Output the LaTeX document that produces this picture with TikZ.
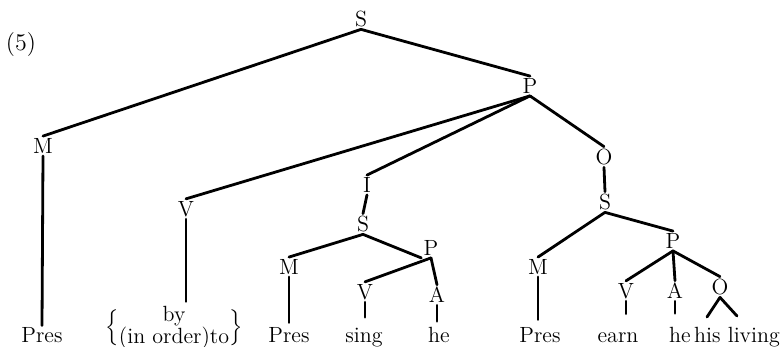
\documentclass[tikz,border=0pt]{standalone}
\begin{document}
\begin{tikzpicture}[x=0.5pt,y=-0.5pt, font=\fontsize{11}{13}\selectfont,
  lab/.style={inner sep=1pt},
  word/.style={inner sep=1pt, anchor=base},
  br/.style={line width=1.4pt, line cap=round}]
\useasboundingbox (0,0) rectangle (783,347);
\node[lab, font=\fontsize{12}{14}\selectfont] (n5) at (21,45) {(5)};
% top level
\node[lab] (S1) at (361,19) {S};
\node[lab] (M1) at (43,146) {M};
\node[word] (Pres1) at (42,343) {Pres};
\node[lab] (P1) at (530,86) {P};
\node[lab] (V1) at (186,209) {V};
\node[word, inner sep=0pt, font=\fontsize{11}{9.5}\selectfont] (by) at (174,333)
  {$\Big\{\begin{array}{@{}c@{}}\mbox{by}\\\mbox{(in order)to}\end{array}\Big\}$};
\node[lab] (I1) at (367,185) {I};
\node[lab] (S2) at (363,224) {S};
\node[lab] (M2) at (289,267) {M};
\node[word] (Pres2) at (289,343) {Pres};
\node[lab] (P2) at (431,248) {P};
\node[lab] (V2) at (365,292) {V};
\node[word] (sing) at (364,343) {sing};
\node[lab] (A2) at (437,295) {A};
\node[word] (he2) at (439,343) {he};
\node[lab] (O1) at (604,157) {O};
\node[lab] (S3) at (605,202) {S};
\node[lab] (M3) at (538,267) {M};
\node[word] (Pres3) at (540,343) {Pres};
\node[lab] (P3) at (673,241) {P};
\node[lab] (V3) at (626,291) {V};
\node[word] (earn) at (618,343) {earn};
\node[lab] (A3) at (675,291) {A};
\node[word] (he3) at (680,343) {he};
\node[lab] (O3) at (720,287) {O};
\node[word] (his) at (737,343) {his living};
\coordinate (f1) at (707,317);
\coordinate (f2) at (737,316);
% connectors
\draw[br] (S1.south) -- (M1.north);
\draw[br] (S1.south) -- (P1.north);
\draw[br] (M1.south) -- (Pres1.north);
\draw[br] (P1.south) -- (V1.north);
\draw[br] (P1.south) -- (I1.north);
\draw[br] (P1.south) -- (O1.north);
\draw[br, shorten >=2pt] (V1.south) -- (V1.south |- by.north);
\draw[br] (I1.south) -- (S2.north);
\draw[br] (S2.south) -- (M2.north);
\draw[br] (S2.south) -- (P2.south west);
\draw[br, shorten >=1.5pt] (M2.south) -- (Pres2.north);
\draw[br] (P2.south) -- (V2.north);
\draw[br] (P2.south) -- (A2.north);
\draw[br, shorten >=4.5pt] (V2.south) -- (V2.south |- sing.north);
\draw[br, shorten >=2pt] (A2.south) -- (A2.south |- he2.north);
\draw[br] (O1.south) -- (S3.north);
\draw[br] (S3.south) -- (M3.north);
\draw[br] (S3.south) -- (P3.north);
\draw[br, shorten >=3pt] (M3.south) -- (M3.south |- Pres3.north);
\draw[br] (P3.south) -- (V3.north);
\draw[br] (P3.south) -- (A3.north);
\draw[br] (P3.south) -- (O3.north);
\draw[br, shorten >=8.5pt] (V3.south) -- (V3.south |- earn.north);
\draw[br, shorten >=6pt] (A3.south) -- (A3.south |- he3.north);
\draw[br] (O3.south) -- (f1);
\draw[br] (O3.south) -- (f2);
\end{tikzpicture}
\end{document}
